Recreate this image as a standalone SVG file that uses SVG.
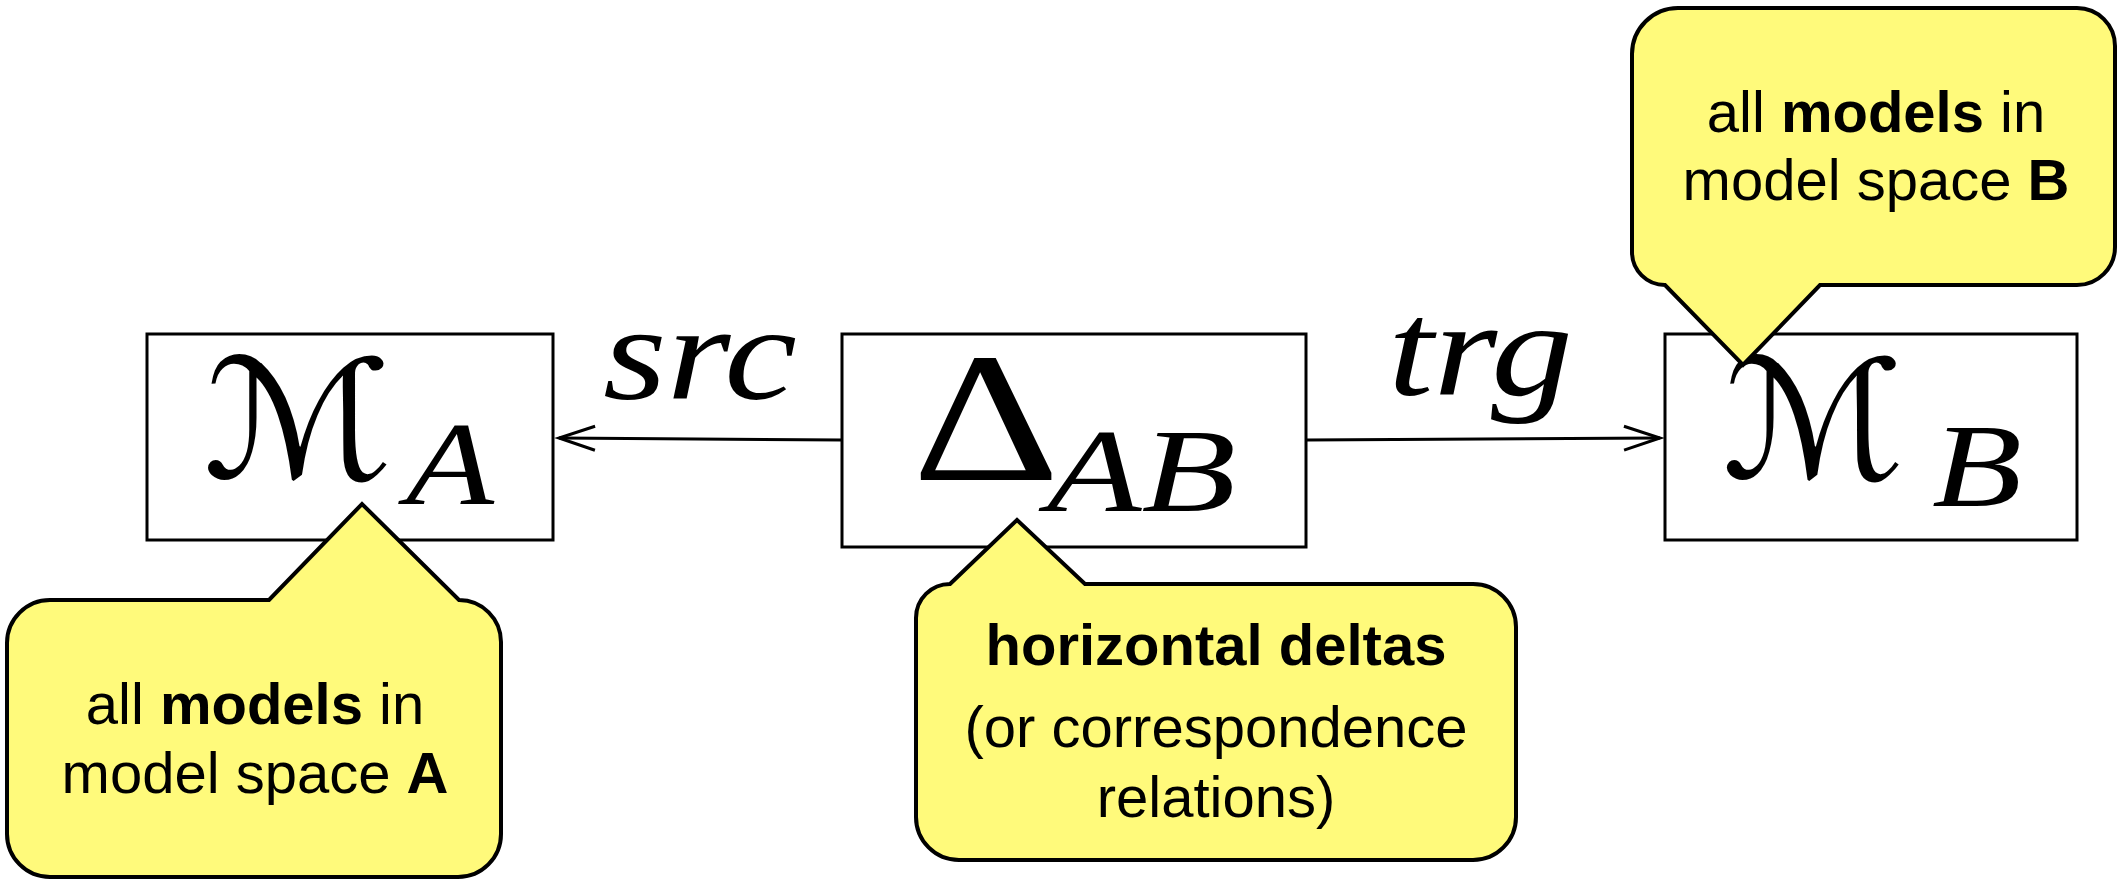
<svg xmlns="http://www.w3.org/2000/svg" width="2118" height="882" viewBox="0 0 2118 882">
<defs>
<style>
.box{fill:#fff;stroke:#000;stroke-width:3}
.callout{fill:#FFFA7B;stroke:#000;stroke-width:4;stroke-linejoin:miter}
.conn{fill:none;stroke:#000;stroke-width:3}
.cap{font-family:"Liberation Sans",Arial,sans-serif;font-size:58px;fill:#000;text-anchor:middle}
.b{font-weight:bold}
.math{font-family:"Liberation Serif","Times New Roman",serif;fill:#000}
.it{font-style:italic}
.cal{font-family:"DejaVu Serif","DejaVu Sans",serif;fill:#000}
</style>
<marker id="open" viewBox="-40 -16 44 32" refX="0" refY="0" markerWidth="44" markerHeight="32" markerUnits="userSpaceOnUse" orient="auto" overflow="visible">
<path d="M -36 -12 L 0 0 L -36 12" fill="none" stroke="#000" stroke-width="3"/>
</marker>
</defs>
<rect width="2118" height="882" fill="#fff"/>
<g id="connectors">
<path class="conn" d="M 842 440 L 559 438" marker-end="url(#open)"/>
<text class="math it" x="603" y="399" font-size="135" textLength="194" lengthAdjust="spacingAndGlyphs">src</text>
<path class="conn" d="M 1307 440 L 1660 438" marker-end="url(#open)"/>
<text class="math it" x="1388" y="395" font-size="135" textLength="185" lengthAdjust="spacingAndGlyphs">trg</text>
</g>
<g id="node-MA">
<rect class="box" x="147" y="334" width="406" height="206"/>
<text class="cal" x="203" y="478" font-size="165" textLength="190" lengthAdjust="spacingAndGlyphs">ℳ</text>
<text class="math it" x="406" y="504" font-size="118" textLength="88" lengthAdjust="spacingAndGlyphs">A</text>
</g>
<g id="node-DeltaAB">
<rect class="box" x="842" y="334" width="464" height="213"/>
<text class="math" x="912" y="480" font-size="184" textLength="148" lengthAdjust="spacingAndGlyphs">Δ</text>
<text class="math it" x="1047" y="511" font-size="118" textLength="189" lengthAdjust="spacingAndGlyphs">AB</text>
</g>
<g id="node-MB">
<rect class="box" x="1665" y="334" width="412" height="206"/>
<text class="cal" x="1722" y="478" font-size="165" textLength="183" lengthAdjust="spacingAndGlyphs">ℳ</text>
<text class="math it" x="1932" y="506" font-size="118" textLength="90" lengthAdjust="spacingAndGlyphs">B</text>
</g>
<g id="callout-A">
<path class="callout" d="M 50 600 L 269 600 L 362 504 L 459 600 A 42 42 0 0 1 501 642 L 501 834 A 43 43 0 0 1 458 877 L 50 877 A 43 43 0 0 1 7 834 L 7 643 A 43 43 0 0 1 50 600 Z"/>
<text class="cap" x="255" y="724">all <tspan class="b">models</tspan> in</text>
<text class="cap" x="255" y="793">model space <tspan class="b">A</tspan></text>
</g>
<g id="callout-Delta">
<path class="callout" d="M 950 584 L 1017 520 L 1085 584 L 1473 584 A 43 43 0 0 1 1516 627 L 1516 817 A 43 43 0 0 1 1473 860 L 959 860 A 43 43 0 0 1 916 817 L 916 618 A 34 34 0 0 1 950 584 Z"/>
<text class="cap b" x="1216" y="665">horizontal deltas</text>
<text class="cap" x="1216" y="747">(or correspondence</text>
<text class="cap" x="1216" y="817">relations)</text>
</g>
<g id="callout-B">
<path class="callout" d="M 1678 8 L 2077 8 A 38 38 0 0 1 2115 46 L 2115 247 A 38 38 0 0 1 2077 285 L 1820 285 L 1743 365 L 1665 285 A 33 33 0 0 1 1632 252 L 1632 54 A 46 46 0 0 1 1678 8 Z"/>
<text class="cap" x="1876" y="132">all <tspan class="b">models</tspan> in</text>
<text class="cap" x="1876" y="200">model space <tspan class="b">B</tspan></text>
</g>
</svg>
